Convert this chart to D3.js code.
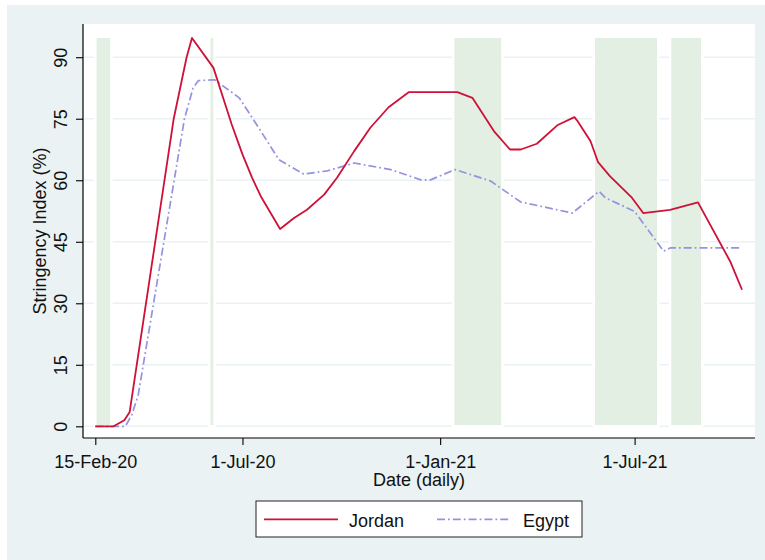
<!DOCTYPE html>
<html>
<head>
<meta charset="utf-8">
<script src="https://cdn.jsdelivr.net/npm/d3@7"></script>
<style>
  html, body { margin: 0; padding: 0; background: #ffffff; }
  svg { display: block; font-family: "Liberation Sans", Arial, sans-serif; }
</style>
</head>
<body>
<svg id="chart" width="765" height="560"></svg>
<script>
// Stringency index, Jordan vs Egypt (breakpoints of the daily series)
const jordanDates = ["2020-02-15","2020-03-03","2020-03-13","2020-03-18","2020-04-28","2020-05-10","2020-05-15",
  "2020-06-04","2020-06-21","2020-07-01","2020-07-10","2020-07-18","2020-08-05","2020-08-18","2020-08-30",
  "2020-09-15","2020-09-27","2020-10-13","2020-10-28","2020-11-14","2020-12-03","2021-01-17","2021-01-31",
  "2021-02-20","2021-03-07","2021-03-17","2021-04-01","2021-04-20","2021-05-06","2021-05-09","2021-05-21",
  "2021-05-28","2021-06-08","2021-06-28","2021-07-09","2021-08-03","2021-08-29","2021-09-28","2021-10-09"];
const jordanValues = [0,0,1.5,3.5,75,90,94.7,
  87.4,73.6,66.3,60.6,56.1,48.1,50.8,52.8,
  56.5,60.6,67.1,72.8,77.8,81.5,81.5,80.1,
  72.0,67.5,67.5,68.9,73.4,75.4,74.4,69.5,
  64.4,61.0,55.9,52.0,52.8,54.6,40.2,33.3];

const egyptDates = ["2020-02-15","2020-03-14","2020-03-20","2020-03-26","2020-05-08","2020-05-16","2020-05-21",
  "2020-06-05","2020-06-28","2020-07-18","2020-08-04","2020-08-27","2020-09-18","2020-10-13","2020-11-16",
  "2020-12-14","2020-12-23","2021-01-15","2021-02-17","2021-03-17","2021-04-04","2021-05-04","2021-05-29",
  "2021-06-04","2021-07-01","2021-07-28","2021-08-03","2021-10-09"];
const egyptValues = [0,0,2.8,7.7,75,82.5,84.3,
  84.5,80.1,72.0,65.0,61.5,62.3,64.2,62.6,
  60.1,60.1,62.6,59.8,54.7,53.7,52.0,57.3,
  55.7,52.4,42.7,43.5,43.5];

// Shaded periods (start, end)
const bandStarts = ["2020-02-15","2020-05-31","2021-01-13","2021-05-24","2021-08-03"];
const bandEnds   = ["2020-03-01","2020-06-05","2021-02-28","2021-07-23","2021-09-02"];
const bandTop = 95;

const yTicks = [0, 15, 30, 45, 60, 75, 90];
const xTickDates = ["2020-02-15","2020-07-01","2021-01-01","2021-07-01"];
const xTickLabels = ["15-Feb-20","1-Jul-20","1-Jan-21","1-Jul-21"];
const seriesNames = ["Jordan", "Egypt"];

const parse = d3.utcParse("%Y-%m-%d");
const svg = d3.select("#chart");

const frame = { left: 83, right: 755, top: 24, bottom: 438 };

const x = d3.scaleUtc()
  .domain([parse("2020-02-15"), parse("2021-07-01")])
  .range([95.3, 634.6]);
const y = d3.scaleLinear()
  .domain([-2.85, 98.1])
  .range([frame.bottom, frame.top]);

const colors = { Jordan: "#cf1038", Egypt: "#9393e0" };
const widths = { Jordan: 1.8, Egypt: 1.7 };
const dashes = { Jordan: null, Egypt: "8,3,1.8,3" };

// outer background
svg.append("rect").attr("x", 7).attr("y", 5).attr("width", 765 - 7).attr("height", 560 - 5)
  .attr("fill", "#eaf2f3");
// plot region
svg.append("rect").attr("x", frame.left).attr("y", frame.top)
  .attr("width", frame.right - frame.left).attr("height", frame.bottom - frame.top)
  .attr("fill", "#ffffff");

// gridlines
svg.append("g").selectAll("line").data(yTicks).join("line")
  .attr("x1", frame.left + 1).attr("x2", frame.right)
  .attr("y1", d => y(d)).attr("y2", d => y(d))
  .attr("stroke", "#eaf2f3").attr("stroke-width", 1.6);

// shaded periods
svg.append("g").selectAll("rect").data(bandStarts.map((s, i) => [parse(s), parse(bandEnds[i])])).join("rect")
  .attr("x", d => x(d[0])).attr("width", d => x(d[1]) - x(d[0]))
  .attr("y", y(bandTop)).attr("height", y(0) - y(bandTop))
  .attr("fill", "#e3efe2").attr("stroke", "#ffffff").attr("stroke-width", 2.5);

// series lines
const series = [
  { name: "Jordan", pts: jordanDates.map((d, i) => [parse(d), jordanValues[i]]) },
  { name: "Egypt", pts: egyptDates.map((d, i) => [parse(d), egyptValues[i]]) }
];
const line = d3.line().x(d => x(d[0])).y(d => y(d[1]));
// Egypt drawn first so Jordan sits on top
[series[1], series[0]].forEach(s => {
  svg.append("path").datum(s.pts)
    .attr("d", line)
    .attr("fill", "none")
    .attr("stroke", colors[s.name])
    .attr("stroke-width", widths[s.name])
    .attr("stroke-dasharray", dashes[s.name])
    .attr("stroke-linejoin", "round");
});

// axes
const yAxis = d3.axisLeft(y).tickValues(yTicks).tickSize(7).tickPadding(4);
const gy = svg.append("g").attr("transform", `translate(${frame.left},0)`).call(yAxis);
gy.select(".domain").attr("d", `M0,${frame.top}V${frame.bottom}`).attr("stroke", "#000").attr("stroke-width", 1.2);
gy.selectAll(".tick line").attr("stroke", "#000").attr("stroke-width", 1.1);
gy.selectAll(".tick text")
  .attr("font-size", 18).attr("fill", "#111")
  .attr("text-anchor", "middle")
  .attr("transform", "rotate(-90)")
  .attr("x", 0).attr("y", -16).attr("dy", 0);

const xAxis = d3.axisBottom(x).tickValues(xTickDates.map(parse))
  .tickFormat((d, i) => xTickLabels[i]).tickSize(7).tickPadding(4);
const gx = svg.append("g").attr("transform", `translate(0,${frame.bottom})`).call(xAxis);
gx.select(".domain").attr("d", `M${frame.left},0H${frame.right}`).attr("stroke", "#000").attr("stroke-width", 1.2);
gx.selectAll(".tick line").attr("stroke", "#000").attr("stroke-width", 1.1);
gx.selectAll(".tick text").attr("font-size", 18).attr("fill", "#111").attr("dy", 0).attr("y", 30);

// axis titles
svg.append("text").attr("x", 419).attr("y", 486).attr("text-anchor", "middle")
  .attr("font-size", 18).attr("fill", "#111").text("Date (daily)");
svg.append("text").attr("transform", `translate(46,${(frame.top + frame.bottom) / 2}) rotate(-90)`)
  .attr("text-anchor", "middle").attr("font-size", 18).attr("fill", "#111").text("Stringency Index (%)");

// legend
const lg = svg.append("g");
lg.append("rect").attr("x", 256).attr("y", 501).attr("width", 326).attr("height", 36)
  .attr("fill", "#ffffff").attr("stroke", "#222").attr("stroke-width", 1);
const legendItems = [
  { name: seriesNames[0], x0: 264, x1: 338, tx: 349 },
  { name: seriesNames[1], x0: 437, x1: 511, tx: 523 }
];
legendItems.forEach(it => {
  lg.append("line").attr("x1", it.x0).attr("x2", it.x1).attr("y1", 519.3).attr("y2", 519.3)
    .attr("stroke", colors[it.name]).attr("stroke-width", widths[it.name])
    .attr("stroke-dasharray", dashes[it.name]);
  lg.append("text").attr("x", it.tx).attr("y", 526.5).attr("font-size", 18).attr("fill", "#111").text(it.name);
});
</script>
</body>
</html>
